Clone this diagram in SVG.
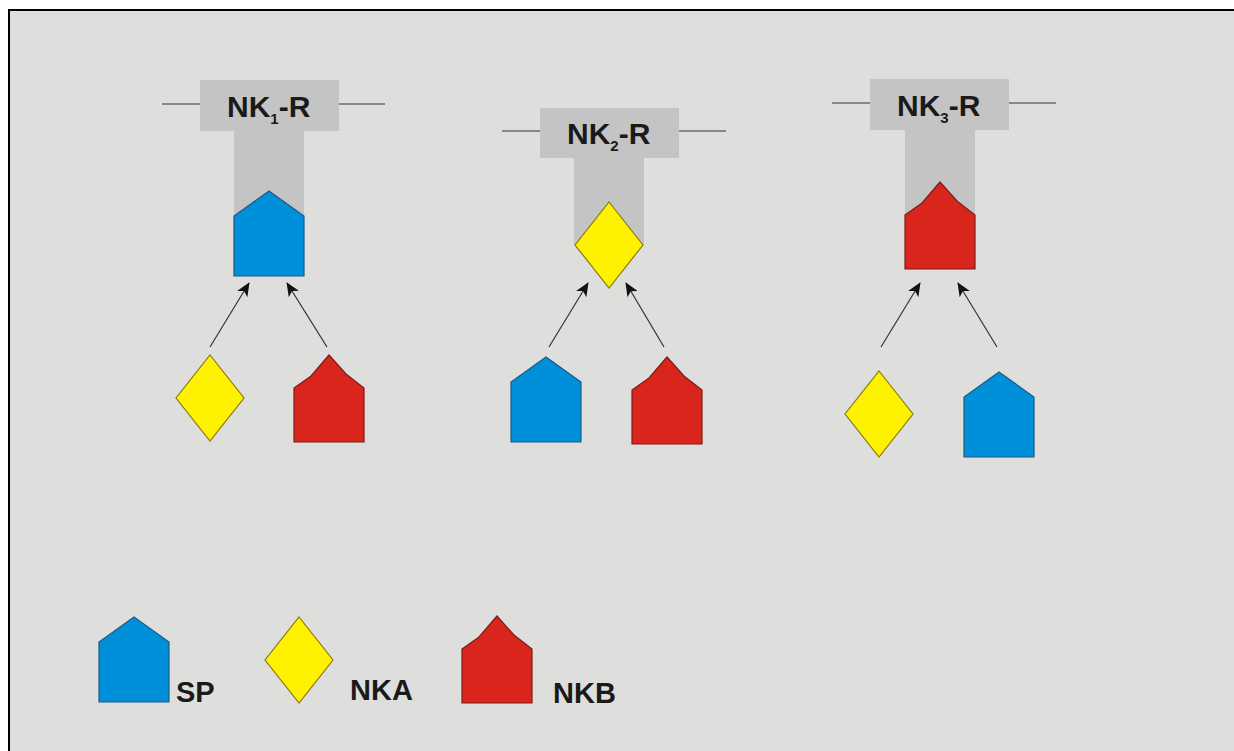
<svg xmlns="http://www.w3.org/2000/svg" width="1234" height="751" viewBox="0 0 1234 751">
  <style>
    .rec { fill: #c4c4c4; }
    .mem { stroke: #333333; stroke-width: 1.2; fill: none; }
    .lbl { font-family: "Liberation Sans", Arial, sans-serif; font-weight: bold; font-size: 30px; fill: #1a1a1a; }
    .sub { font-size: 15px; }
    .leg { font-family: "Liberation Sans", Arial, sans-serif; font-weight: bold; font-size: 29px; fill: #1a1a1a; }
    .sp { fill: #0090d9; stroke: #1b5a86; stroke-width: 1.2; }
    .nka { fill: #fff200; stroke: #8a7a10; stroke-width: 1.2; }
    .nkb { fill: #d9251c; stroke: #7a1d18; stroke-width: 1.2; }
    .arr { stroke: #333333; stroke-width: 1.2; fill: none; marker-end: url(#head); }
  </style>
  <defs>
    <marker id="head" viewBox="0 0 14 12" refX="13" refY="6" markerWidth="14" markerHeight="12" markerUnits="userSpaceOnUse" orient="auto">
      <path d="M0,0 L14,6 L0,12 L3.5,6 Z" fill="#111111"/>
    </marker>
    <!-- ligand shapes, origin at the apex -->
    <path id="sp" d="M0,0 L35,25 L35,85 L-35,85 L-35,25 Z"/>
    <path id="nka" d="M0,0 L34,43 L0,86 L-34,43 Z"/>
    <path id="nkb" d="M0,0 L17,19 L35,33 L35,87 L-35,87 L-35,33 L-18,21 Z"/>
  </defs>

  <!-- frame: white margin, grey panel edged in black on top and left -->
  <rect x="0" y="0" width="1234" height="751" fill="#ffffff"/>
  <rect x="10" y="11" width="1224" height="740" fill="#dededc"/>
  <path d="M9,751 V10 H1234" fill="none" stroke="#000000" stroke-width="2"/>

  <!-- receptors -->
  <g id="nk1r">
    <line class="mem" x1="162" y1="104" x2="200" y2="104"/>
    <line class="mem" x1="339" y1="104" x2="385" y2="104"/>
    <rect class="rec" x="200" y="80" width="139" height="51"/>
    <rect class="rec" x="234" y="130" width="70" height="88"/>
    <text class="lbl" x="227" y="117">NK<tspan class="sub" dy="7">1</tspan><tspan dy="-7">-R</tspan></text>
    <use href="#sp" class="sp" x="269" y="191"/>
  </g>
  <g id="nk2r">
    <line class="mem" x1="502" y1="131" x2="540" y2="131"/>
    <line class="mem" x1="679" y1="131" x2="726" y2="131"/>
    <rect class="rec" x="540" y="108" width="139" height="50"/>
    <rect class="rec" x="574" y="157" width="70" height="88"/>
    <text class="lbl" x="567" y="144">NK<tspan class="sub" dy="7">2</tspan><tspan dy="-7">-R</tspan></text>
    <use href="#nka" class="nka" x="609" y="202"/>
  </g>
  <g id="nk3r">
    <line class="mem" x1="832" y1="103" x2="870" y2="103"/>
    <line class="mem" x1="1009" y1="103" x2="1056" y2="103"/>
    <rect class="rec" x="870" y="79" width="139" height="51"/>
    <rect class="rec" x="905" y="129" width="70" height="88"/>
    <text class="lbl" x="897" y="116">NK<tspan class="sub" dy="7">3</tspan><tspan dy="-7">-R</tspan></text>
    <use href="#nkb" class="nkb" x="940" y="182"/>
  </g>

  <!-- ligands below each receptor -->
  <g id="l1-nka"><use href="#nka" class="nka" x="210" y="355"/></g>
  <g id="l1-nkb"><use href="#nkb" class="nkb" x="329" y="355"/></g>
  <g id="l2-sp"><use href="#sp" class="sp" x="546" y="357"/></g>
  <g id="l2-nkb"><use href="#nkb" class="nkb" x="667" y="357"/></g>
  <g id="l3-nka"><use href="#nka" class="nka" x="879" y="371"/></g>
  <g id="l3-sp"><use href="#sp" class="sp" x="999" y="372"/></g>

  <!-- connectors -->
  <g id="connectors">
    <line class="arr" x1="210" y1="347" x2="249" y2="283"/>
    <line class="arr" x1="327" y1="347" x2="287" y2="283"/>
    <line class="arr" x1="549" y1="347" x2="588" y2="283"/>
    <line class="arr" x1="664" y1="347" x2="626" y2="283"/>
    <line class="arr" x1="881" y1="347" x2="920" y2="283"/>
    <line class="arr" x1="997" y1="347" x2="958" y2="283"/>
  </g>

  <!-- legend -->
  <g id="legend-sp">
    <use href="#sp" class="sp" x="134" y="617"/>
    <text class="leg" x="176" y="702">SP</text>
  </g>
  <g id="legend-nka">
    <use href="#nka" class="nka" x="299" y="617"/>
    <text class="leg" x="350" y="700">NKA</text>
  </g>
  <g id="legend-nkb">
    <use href="#nkb" class="nkb" x="497" y="616"/>
    <text class="leg" x="553" y="703">NKB</text>
  </g>
</svg>
